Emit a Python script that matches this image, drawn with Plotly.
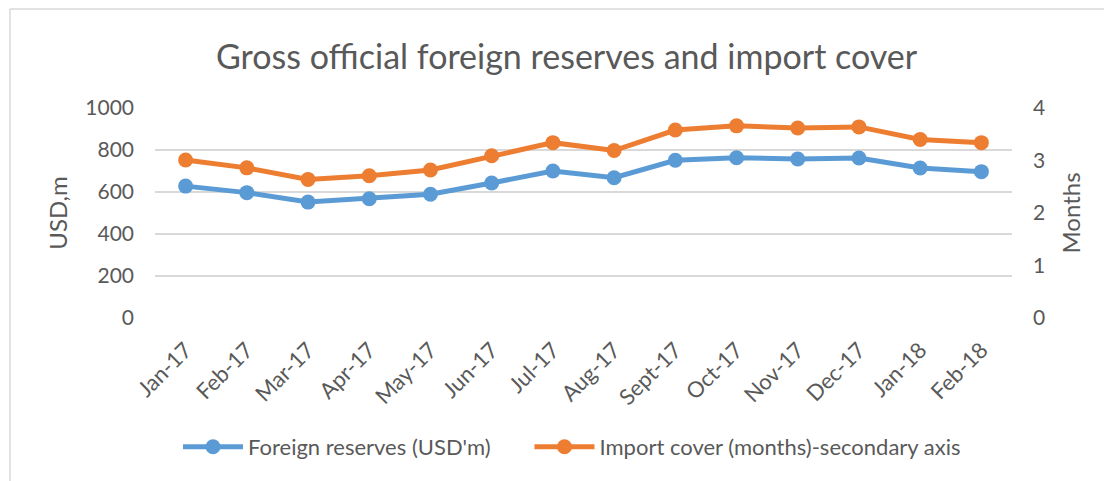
import plotly.graph_objects as go

months = ["Jan-17", "Feb-17", "Mar-17", "Apr-17", "May-17", "Jun-17", "Jul-17",
          "Aug-17", "Sept-17", "Oct-17", "Nov-17", "Dec-17", "Jan-18", "Feb-18"]
reserves = [628, 597, 552, 568, 589, 643, 700, 668, 751, 763, 757, 762, 714, 697]
import_cover = [3.01, 2.86, 2.64, 2.71, 2.82, 3.09, 3.34, 3.19, 3.58, 3.66, 3.62, 3.64, 3.40, 3.34]
left_ticks = [0, 200, 400, 600, 800, 1000]
right_ticks = [0, 1, 2, 3, 4]

FONT = "Lato"
TXT = "#595959"
BLUE = "#5B9BD5"
ORANGE = "#ED7D31"
GRID = "#D9D9D9"

# page body has an 8px margin, so figure coords = screen coords - 8
OFF = 8
W, H = 1112 - OFF, 481 - OFF
L, R, T, B = 147, 100, 100, 163
pw, ph = W - L - R, H - T - B

def px_x(x):
    return (x - OFF - L) / pw

def px_y(y):
    return (H - B - (y - OFF)) / ph

PAD = "\u00a0" * 6

fig = go.Figure()
fig.add_trace(go.Scatter(
    x=months, y=reserves, name="Foreign reserves (USD'm)" + PAD, mode="lines+markers",
    line=dict(color=BLUE, width=5), marker=dict(color=BLUE, size=15), yaxis="y"))
fig.add_trace(go.Scatter(
    x=months, y=import_cover, name="Import cover (months)-secondary axis", mode="lines+markers",
    line=dict(color=ORANGE, width=5), marker=dict(color=ORANGE, size=15), yaxis="y2"))

fig.update_layout(
    width=W, height=H,
    margin=dict(l=L, r=R, t=T, b=B, autoexpand=False),
    paper_bgcolor="white", plot_bgcolor="white",
    font=dict(family=FONT, color=TXT, size=21),
    showlegend=True,
    legend=dict(orientation="h", x=px_x(572), xanchor="center", y=px_y(447), yanchor="middle",
                font=dict(size=22, color=TXT), itemwidth=60, tracegroupgap=0,
                bgcolor="rgba(0,0,0,0)"),
    xaxis=dict(type="category", range=[-0.5, len(months) - 0.5], tickangle=-45,
               showgrid=False, showline=False, ticks="", zeroline=False,
               ticklabelstandoff=14, automargin=False,
               tickfont=dict(size=22, color=TXT)),
    yaxis=dict(range=[0, 1000], tickvals=left_ticks, showgrid=True, gridcolor=GRID,
               gridwidth=1.5, zeroline=False, showline=False, ticks="",
               ticklabelstandoff=20, automargin=False,
               tickfont=dict(size=21, color=TXT),
               title=dict(text="USD,m", font=dict(size=24, color=TXT), standoff=10)),
    yaxis2=dict(range=[0, 4], tickvals=right_ticks, overlaying="y", side="right",
                showgrid=False, zeroline=False, showline=False, ticks="",
                ticklabelstandoff=20, automargin=False,
                tickfont=dict(size=21, color=TXT),
                title=dict(text="Months", font=dict(size=24, color=TXT), standoff=19)),
    annotations=[dict(text="Gross official foreign reserves and import cover",
                      x=px_x(567), y=px_y(55), xref="paper", yref="paper",
                      xanchor="center", yanchor="middle", showarrow=False,
                      font=dict(size=34, color=TXT, family=FONT))],
    shapes=[
        dict(type="line", xref="paper", yref="paper", x0=px_x(10), x1=px_x(10),
             y0=px_y(9), y1=px_y(481 + 10), line=dict(color=GRID, width=1.5)),
        dict(type="line", xref="paper", yref="paper", x0=px_x(10), x1=px_x(1112 + 10),
             y0=px_y(9), y1=px_y(9), line=dict(color=GRID, width=1.5)),
    ],
)

fig.write_html("out.html")
